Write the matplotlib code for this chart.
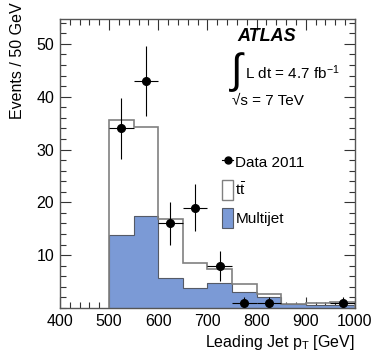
"""
Leading jet pT distribution - ATLAS style stacked histogram
"""

import numpy as np
import matplotlib
matplotlib.use('Agg')
import matplotlib.pyplot as plt
from matplotlib.patches import Patch
from matplotlib.lines import Line2D
from matplotlib.ticker import MultipleLocator

plt.rcParams['font.family'] = ['Liberation Sans', 'DejaVu Sans']
plt.rcParams['mathtext.fontset'] = 'custom'
plt.rcParams['mathtext.rm'] = 'Liberation Sans'
plt.rcParams['mathtext.it'] = 'Liberation Sans:italic'

# Data
bin_edges = [500, 550, 600, 650, 700, 750, 800, 850, 900, 950, 1000]
multijet = [13.8, 17.4, 5.6, 3.7, 4.7, 3.0, 2.0, 0.7, 0.5, 0.5]
ttbar = [21.7, 16.9, 11.2, 4.8, 2.6, 1.5, 0.6, 0.1, 0.5, 0.7]

data_x = [525, 575, 625, 675, 725, 775, 825, 975]
data_y = [34, 43, 16, 19, 8, 1, 1, 1]
data_err = [5.8, 6.6, 4.0, 4.4, 2.8, 1.0, 1.0, 1.0]
data_xerr = 25

BLUE = '#7b9ad6'
EDGE = '#808080'
DPI = 100

fig = plt.figure(figsize=(3.74, 3.59), dpi=DPI)
ax = fig.add_axes([0.160, 0.142, 0.789, 0.805])

edges = np.array(bin_edges)
mj = np.array(multijet)
total = mj + np.array(ttbar)

# stacked histogram: ttbar on top of multijet
ax.stairs(total, edges, baseline=0, fill=True, facecolor='white', zorder=1)
ax.stairs(mj, edges, baseline=0, fill=True, facecolor=BLUE, zorder=2)
ax.stairs(mj, edges, baseline=0, color='#555a66', lw=0.8, zorder=3)
ax.stairs(total, edges, baseline=0, color=EDGE, lw=1.2, zorder=3)

# data points
ax.errorbar(data_x, data_y, yerr=data_err, xerr=data_xerr, fmt='o',
            color='black', ms=5.5, elinewidth=0.8, capsize=0, zorder=5)

ax.set_xlim(400, 1000)
ax.set_ylim(0, 54.7)
ax.xaxis.set_major_locator(MultipleLocator(100))
ax.xaxis.set_minor_locator(MultipleLocator(20))
ax.yaxis.set_major_locator(MultipleLocator(10))
ax.yaxis.set_minor_locator(MultipleLocator(2))
ax.set_yticks([10, 20, 30, 40, 50])
ax.tick_params(which='both', direction='in', top=True, right=True,
               labelsize=11.5, width=0.8, color='#333333')
ax.tick_params(which='major', length=8, pad=4)
ax.tick_params(which='minor', length=4)
for s in ax.spines.values():
    s.set_color('#555555')
    s.set_linewidth(1.0)

# axis titles (ROOT-style alignment)
fig.text(0.048, 0.993, 'Events / 50 GeV', rotation=90, ha='center',
         va='top', fontsize=11.5)
fig.text(0.949, 0.045, r'Leading Jet p$_\mathregular{T}$ [GeV]',
         ha='right', va='center', fontsize=11.5)

# labels
ax.text(0.603, 0.94, 'ATLAS', transform=ax.transAxes, fontsize=13,
        fontweight='bold', style='italic', ha='left', va='center')
ax.text(0.58, 0.815, '\u222b', transform=ax.transAxes, fontsize=30,
        ha='left', va='center')
ax.text(0.628, 0.815, r'L dt = 4.7 fb$^\mathregular{-1}$',
        transform=ax.transAxes, fontsize=11, ha='left', va='center')
ax.text(0.585, 0.715, '\u221as = 7 TeV', transform=ax.transAxes,
        fontsize=11, ha='left', va='center')

# legend
handles = [
    Line2D([0], [0], color='black', marker='o', ms=5, lw=0.8),
    Patch(facecolor='white', edgecolor=EDGE, lw=1.0),
    Patch(facecolor=BLUE, edgecolor='#555a66', lw=0.8),
]
labels = ['Data 2011', r'$\mathregular{t\bar{t}}$', 'Multijet']
ax.legend(handles, labels, loc='upper left', bbox_to_anchor=(0.53, 0.56),
          frameon=False, fontsize=11, handlelength=0.7, handleheight=1.6,
          handletextpad=0.15, labelspacing=0.55, borderaxespad=0)

fig.savefig('out.png', dpi=DPI)
